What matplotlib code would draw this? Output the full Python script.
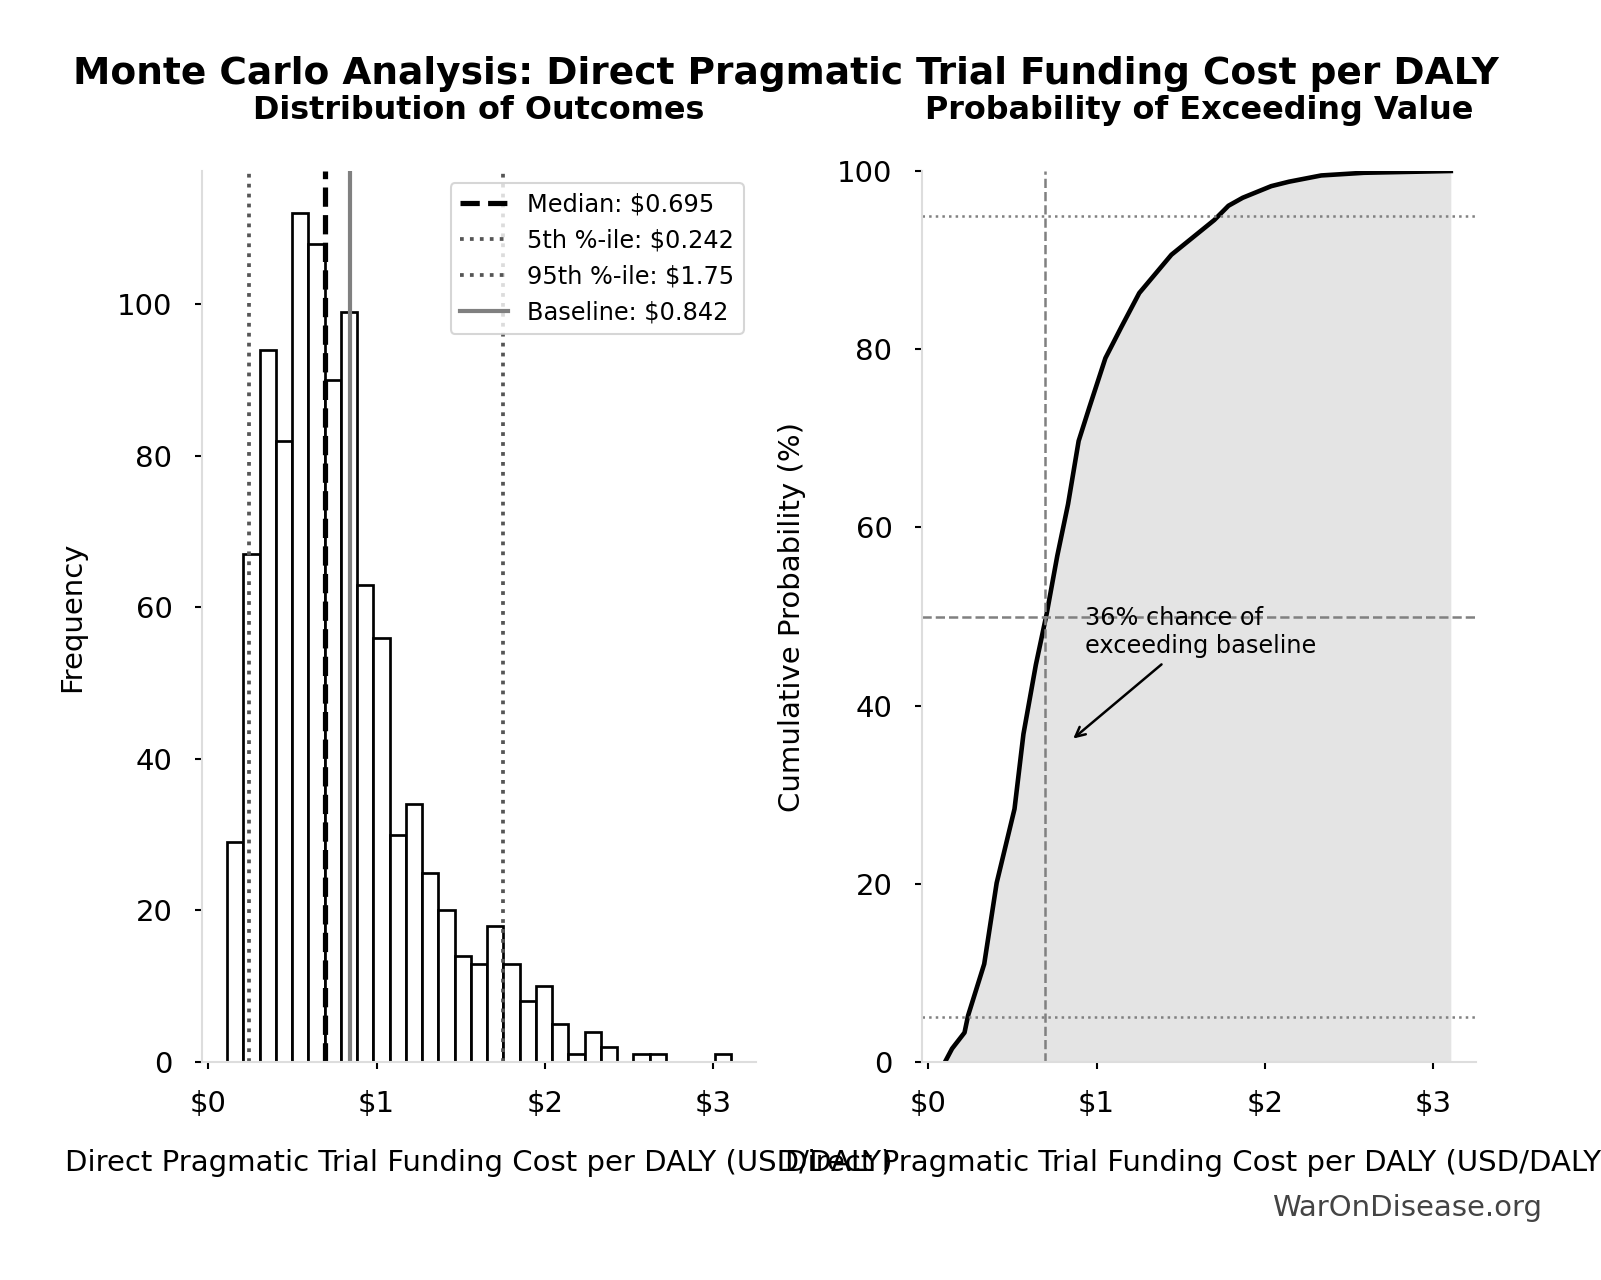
"""
Monte Carlo summary chart: histogram of outcomes + cumulative probability curve.
"""

import numpy as np
import matplotlib
matplotlib.use("Agg")
import matplotlib.pyplot as plt
from matplotlib.ticker import FuncFormatter, MultipleLocator


# ── Data ─────────────────────────────────────────────────────────────────────

sample_min = 0.112          # smallest simulated value (USD/DALY)
sample_max = 3.104          # largest simulated value
bin_counts = [29, 67, 94, 82, 112, 108, 90, 99, 63, 56,
              30, 34, 25, 20, 14, 13, 18, 13, 8, 10,
              5, 1, 4, 2, 0, 1, 1, 0, 0, 0, 1]

# empirical CDF of the samples (x in USD/DALY, y in %)
cdf_x   = [0.099, 0.141, 0.215, 0.236, 0.332, 0.406, 0.512, 0.565, 0.639, 0.703,
           0.766, 0.830, 0.893, 0.957, 1.052, 1.147, 1.253, 1.444, 1.529, 1.699,
           1.783, 1.868, 2.037, 2.143, 2.334, 2.588, 3.104]
cdf_pct = [0.0, 1.5, 3.3, 5.2, 11.0, 20.1, 28.4, 36.8, 44.6, 50.3,
           56.8, 62.6, 69.7, 73.5, 79.0, 82.5, 86.3, 90.6, 91.9, 94.5,
           96.1, 97.0, 98.3, 98.8, 99.5, 99.8, 100.0]

median_val   = 0.695
p5_val       = 0.242
p95_val      = 1.75
baseline_val = 0.842
exceed_pct   = 36

title_main  = "Monte Carlo Analysis: Direct Pragmatic Trial Funding Cost per DALY"
title_left  = "Distribution of Outcomes"
title_right = "Probability of Exceeding Value"
x_label     = "Direct Pragmatic Trial Funding Cost per DALY (USD/DALY)"
watermark   = "WarOnDisease.org"


# ── Helpers ──────────────────────────────────────────────────────────────────

def _dollar(v, pos=None):
    return f"${v:g}"


def _style_axes(ax):
    for side in ("top", "right"):
        ax.spines[side].set_visible(False)
    for side in ("left", "bottom"):
        ax.spines[side].set_color("#dddddd")
        ax.spines[side].set_linewidth(1.0)
    ax.tick_params(axis="both", labelsize=14, length=3.5, width=1.0, color="black")
    ax.tick_params(axis="y", pad=10.7)
    ax.tick_params(axis="x", pad=10)
    ax.xaxis.set_major_locator(MultipleLocator(1))
    ax.xaxis.set_major_formatter(FuncFormatter(_dollar))


# ── Figure ───────────────────────────────────────────────────────────────────

W, H = 1601, 1280
fig = plt.figure(figsize=(W / 150, H / 150), dpi=150)

ax1 = fig.add_axes([202 / W, 1 - 1062 / H, (756 - 202) / W, (1062 - 171) / H])
ax2 = fig.add_axes([922 / W, 1 - 1062 / H, (1476 - 922) / W, (1062 - 171) / H])

counts = np.asarray(bin_counts, dtype=float)
edges  = np.linspace(sample_min, sample_max, len(counts) + 1)
mids   = 0.5 * (edges[:-1] + edges[1:])

# histogram (empty bins left out so no black line sits on the baseline)
keep = counts > 0
ax1.hist(mids[keep], bins=edges, weights=counts[keep],
         color="white", edgecolor="black", linewidth=1.3)

ax1.axvline(median_val, color="black", linestyle="--", linewidth=2.5,
            label=f"Median: ${median_val:.3g}")
ax1.axvline(p5_val, color="#555555", linestyle=":", linewidth=1.8,
            label=f"5th %-ile: ${p5_val:.3g}")
ax1.axvline(p95_val, color="#555555", linestyle=":", linewidth=1.8,
            label=f"95th %-ile: ${p95_val:.3g}")
ax1.axvline(baseline_val, color="#808080", linestyle="-", linewidth=2.0,
            label=f"Baseline: ${baseline_val:.3g}")

_style_axes(ax1)
ax1.set_ylabel("Frequency", fontsize=14, labelpad=15)
ax1.set_xlabel(x_label, fontsize=14, labelpad=15)
ax1.set_title(title_left, fontsize=15.3, fontweight="bold", pad=25)
ax1.legend(loc="upper right", fontsize=11.5, frameon=True, edgecolor="#cccccc")

# cumulative probability curve
ax2.fill_between(cdf_x, cdf_pct, 0, color="lightgray", alpha=0.6, linewidth=0)
ax2.plot(cdf_x, cdf_pct, color="black", linewidth=2.2)

ax2.axhline(95, color="#808080", linestyle=":", linewidth=1.2)
ax2.axhline(5, color="#808080", linestyle=":", linewidth=1.2)
ax2.axhline(50, color="#808080", linestyle="--", linewidth=1.2)
ax2.axvline(median_val, color="#808080", linestyle="--", linewidth=1.2)

ax2.annotate(f"{exceed_pct}% chance of\nexceeding baseline",
             xy=(baseline_val, exceed_pct), xytext=(0.93, 48.3),
             ha="left", va="center", fontsize=11.5,
             arrowprops=dict(arrowstyle="->", color="black", lw=1.2))

_style_axes(ax2)
ax2.set_xlim(ax1.get_xlim())
ax2.set_ylim(0, 100)
ax2.yaxis.set_major_locator(MultipleLocator(20))
ax2.set_ylabel("Cumulative Probability (%)", fontsize=14, labelpad=15)
ax2.set_xlabel(x_label, fontsize=14, labelpad=15)
ax2.set_title(title_right, fontsize=15.3, fontweight="bold", pad=25)

fig.text(0.491, 1 - 74.5 / H, title_main, ha="center", va="center",
         fontsize=18, fontweight="bold")
fig.text(1542 / W, 1 - 1208 / H, watermark, ha="right", va="center",
         fontsize=14, color="#444444")

fig.savefig("out.png", dpi=150)
plt.close(fig)
